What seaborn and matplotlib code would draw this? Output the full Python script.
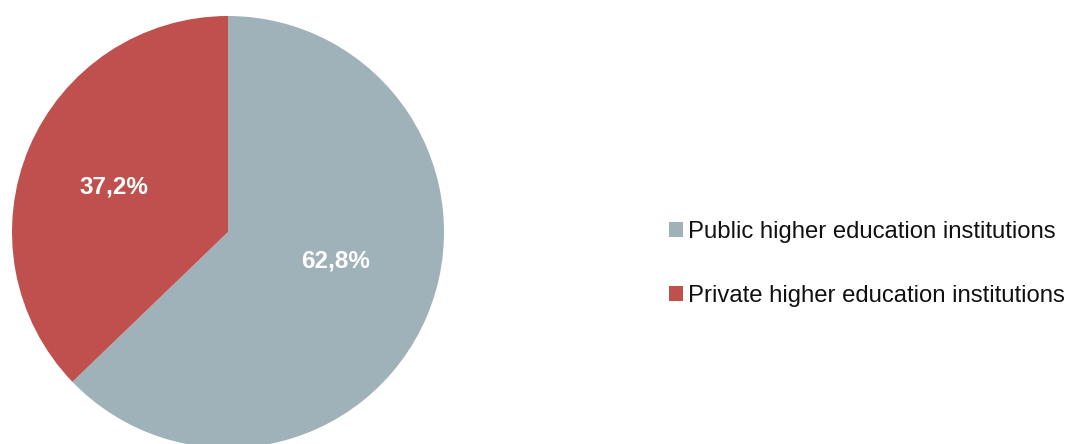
import matplotlib
matplotlib.use("Agg")
import seaborn as sns
from matplotlib import pyplot as plt
from matplotlib.patches import Patch

CATEGORIES = ["Public higher education institutions", "Private higher education institutions"]
SHARES = [62.8, 37.2]
COLORS = ["#A0B2B9", "#C0504D"]

W, H = 1067, 444


def pct_label(p: float) -> str:
    return f"{p:.1f}%".replace(".", ",")


def main():
    sns.set_theme(style="white")
    plt.rcParams["font.family"] = ["Liberation Sans", "DejaVu Sans"]

    fig = plt.figure(figsize=(W / 100, H / 100), dpi=100)

    # pie centre at (228, 232) px from top-left, radius 216 px
    cx, cy, r = 228, 232, 216
    ax = fig.add_axes([(cx - r) / W, (H - cy - r) / H, 2 * r / W, 2 * r / H])
    wedges, _, autotexts = ax.pie(
        SHARES,
        colors=COLORS,
        startangle=90,
        counterclock=False,
        autopct=pct_label,
        pctdistance=0.55,
        radius=1,
        wedgeprops=dict(edgecolor="none", linewidth=0),
        textprops=dict(color="white", fontsize=17.5, fontweight="bold"),
    )
    # nudge the labels a little to match the reference
    autotexts[0].set_position((0.50, -0.135))
    autotexts[1].set_position((-0.53, 0.21))
    ax.set_xlim(-1, 1)
    ax.set_ylim(-1, 1)
    ax.set_aspect("equal")
    ax.axis("off")

    handles = [Patch(facecolor=c, edgecolor="none") for c in COLORS]
    fig.legend(
        handles,
        CATEGORIES,
        loc="center left",
        bbox_to_anchor=(669 / W, 1 - 264 / H),
        bbox_transform=fig.transFigure,
        frameon=False,
        fontsize=17.2,
        handlelength=0.6,
        handleheight=0.6,
        handletextpad=0.2,
        labelspacing=1.78,
        borderpad=0,
        borderaxespad=0,
        labelcolor="#111111",
    )

    fig.savefig("out.png", dpi=100, facecolor="white")
    plt.close(fig)


if __name__ == "__main__":

    main()
